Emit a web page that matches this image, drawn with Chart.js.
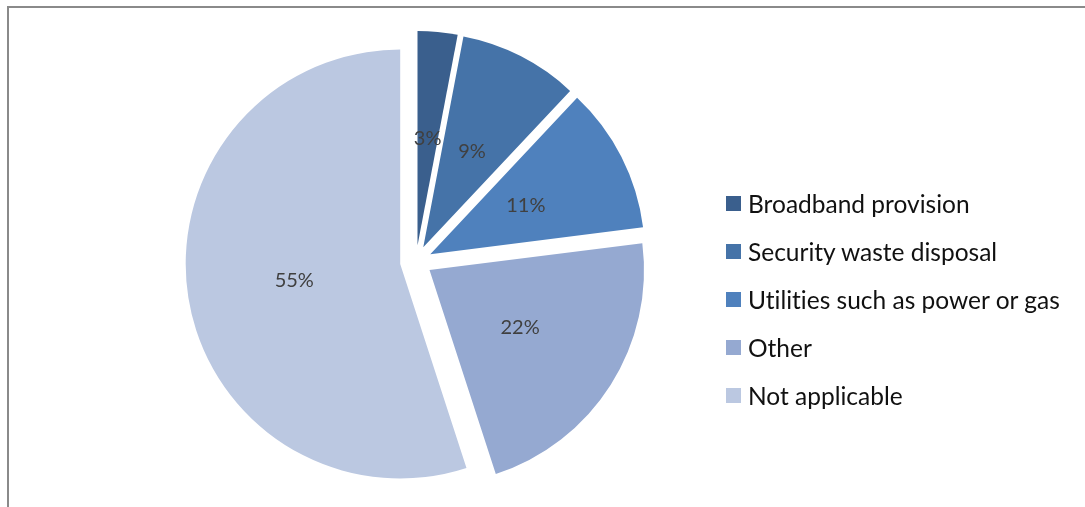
<!DOCTYPE html>
<html>
<head>
<meta charset="utf-8">
<script src="https://cdn.jsdelivr.net/npm/chart.js@4/dist/chart.umd.min.js"></script>
<style>
  html, body { margin: 0; padding: 0; background: #fff; overflow: hidden; }
  #wrap { position: relative; width: 1085px; height: 507px; overflow: hidden; }
  #frame { position: absolute; left: 7px; top: 6px; width: 1200px; height: 600px;
           border-top: 2px solid #8a8a8a; border-left: 2px solid #8a8a8a; }
  #chart { position: absolute; left: 0; top: 0; }
  #legend { position: absolute; left: 726px; top: 179px; margin: 0; padding: 0; list-style: none;
            font-family: Lato, sans-serif; font-size: 24.5px; color: #111;
            font-variant-ligatures: none; }
  #legend li { height: 48px; display: flex; align-items: center; white-space: nowrap; }
  #legend .box { width: 15px; height: 15px; margin-right: 7px; flex: none; }
</style>
</head>
<body>
<div id="wrap">
  <div id="frame"></div>
  <canvas id="chart" width="1085" height="507"></canvas>
  <ul id="legend"></ul>
</div>
<script>
// Chart data
var categories = ['Broadband provision', 'Security waste disposal', 'Utilities such as power or gas', 'Other', 'Not applicable'];
var shares = [3, 9, 11, 22, 55];
var sliceColors = ['#3A5F8D', '#4573A8', '#4F81BD', '#95A9D1', '#BBC8E1'];

// How far each slice is pulled out from the centre, px
var EXPLODE = 16;

// Draws every slice shifted along its own mid angle
var explodePlugin = {
  id: 'explode',
  beforeDatasetDraw: function (chart, args) {
    var ctx = chart.ctx;
    args.meta.data.forEach(function (arc) {
      var mid = (arc.startAngle + arc.endAngle) / 2;
      ctx.save();
      ctx.translate(Math.cos(mid) * EXPLODE, Math.sin(mid) * EXPLODE);
      arc.draw(ctx);
      ctx.restore();
    });
    return false;
  },
  afterDatasetsDraw: function (chart) {
    var ctx = chart.ctx;
    var meta = chart.getDatasetMeta(0);
    ctx.save();
    ctx.font = '20px Lato, sans-serif';
    ctx.fillStyle = '#404040';
    ctx.textAlign = 'center';
    ctx.textBaseline = 'middle';
    meta.data.forEach(function (arc, i) {
      var mid = (arc.startAngle + arc.endAngle) / 2;
      var p = arc.tooltipPosition();
      ctx.fillText(shares[i] + '%', p.x + Math.cos(mid) * EXPLODE, p.y + Math.sin(mid) * EXPLODE);
    });
    ctx.restore();
  }
};

var ctx = document.getElementById('chart');
var chart = new Chart(ctx, {
  type: 'pie',
  data: {
    labels: categories,
    datasets: [{
      data: shares,
      backgroundColor: sliceColors,
      borderWidth: 0
    }]
  },
  options: {
    responsive: false,
    animation: false,
    layout: {
      padding: { top: 47, bottom: 31, left: 0, right: 253 }
    },
    plugins: {
      legend: { display: false },
      tooltip: { enabled: false }
    }
  },
  plugins: [explodePlugin]
});

// Legend list built from the chart's own legend items
var list = document.getElementById('legend');
Chart.overrides.pie.plugins.legend.labels.generateLabels(chart).forEach(function (item) {
  var li = document.createElement('li');
  var box = document.createElement('span');
  box.className = 'box';
  box.style.background = item.fillStyle;
  li.appendChild(box);
  li.appendChild(document.createTextNode(item.text));
  list.appendChild(li);
});
</script>
</body>
</html>
